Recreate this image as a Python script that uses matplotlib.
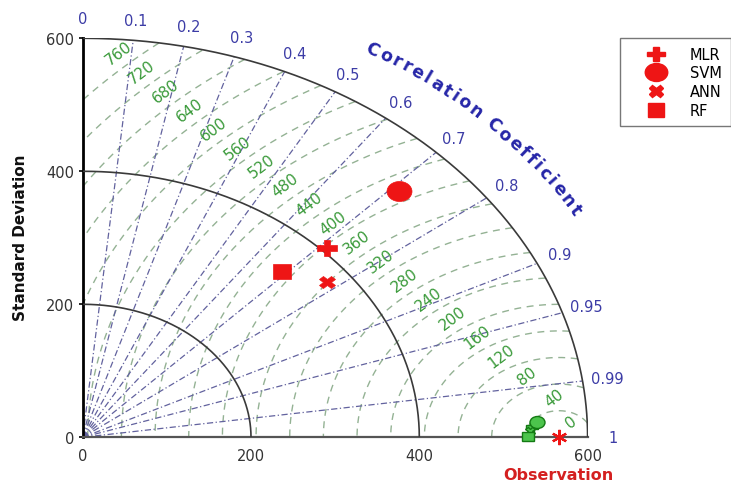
import numpy as np
import matplotlib
matplotlib.use('Agg')
import matplotlib.pyplot as plt
from matplotlib.markers import MarkerStyle
from matplotlib.transforms import Affine2D
from matplotlib.font_manager import FontProperties
from matplotlib.lines import Line2D

# ---------------- data ----------------
models = ['MLR', 'SVM', 'ANN', 'RF']
model_std = [406.0, 528.0, 372.5, 344.5]
model_corr = [0.714, 0.713, 0.780, 0.686]
train_std = [534.2, 540.5, 531.1, 529.6]
train_corr = [0.9996, 0.9991, 0.99986, 0.99999]
obs_std = 566.0
std_ticks = [0, 200, 400, 600]
std_arcs = [200, 400, 600]
corr_ticks = [0.0, 0.1, 0.2, 0.3, 0.4, 0.5, 0.6, 0.7, 0.8, 0.9, 0.95, 0.99, 1.0]
corr_labels = ['0', '0.1', '0.2', '0.3', '0.4', '0.5', '0.6', '0.7', '0.8', '0.9', '0.95', '0.99', '1']
rms_levels = [0, 40, 80, 120, 160, 200, 240, 280, 320, 360, 400, 440, 480,
              520, 560, 600, 640, 680, 720, 760]

# ---------------- styles ----------------
RMAX = 600
red = '#ee1515'
blue_lbl = '#3c3ca6'
green_lbl = '#3a9a3a'
rms_color = '#94b294'
corr_color = '#62629e'
stretch = Affine2D().scale(1.25, 1.0)
mk = {'MLR': 'P', 'SVM': 'o', 'ANN': 'X', 'RF': 's'}
msz = {'MLR': 11.5, 'SVM': 14.4, 'ANN': 9.2, 'RF': 10.8}

fig = plt.figure(figsize=(7.31, 4.85), dpi=100)
ax = fig.add_axes([82.7 / 731, (485 - 438.3) / 485, (587.6 - 82.7) / 731, (438.3 - 39.3) / 485])
ax.set_xlim(0, RMAX)
ax.set_ylim(0, RMAX)
for s in ['top', 'right']:
    ax.spines[s].set_visible(False)
ax.spines['left'].set_linewidth(2.0)
ax.spines['left'].set_color('black')
ax.spines['bottom'].set_linewidth(1.6)
ax.spines['bottom'].set_color('#555555')
ax.set_xticks(std_ticks)
ax.set_yticks(std_ticks)
ax.tick_params(axis='x', length=0, pad=8, labelsize=10.5, labelcolor='#333333')
ax.tick_params(axis='y', length=3, width=1.2, direction='out', pad=3, labelsize=10.5,
               labelcolor='#333333')

# RMS contours (centered on observation)
phi = np.linspace(0, np.pi, 1500)
for v in rms_levels[1:]:
    x = obs_std + v * np.cos(phi)
    y = v * np.sin(phi)
    m = (np.hypot(x, y) <= RMAX) & (x >= 0)
    x = np.where(m, x, np.nan)
    y = np.where(m, y, np.nan)
    ax.plot(x, y, color=rms_color, lw=1.0, dashes=(5, 4), zorder=2)

# correlation lines
for c in corr_ticks[1:-1]:
    ax.plot([0, RMAX * c], [0, RMAX * np.sqrt(1 - c * c)], color=corr_color, lw=0.9,
            dashes=(5, 2, 1, 2), zorder=2)

# std arcs
th = np.linspace(0, np.pi / 2, 400)
for r in std_arcs:
    ax.plot(r * np.cos(th), r * np.sin(th), color='#3a3a3a', lw=1.2, zorder=3)

# correlation tick labels
for c, lab in zip(corr_ticks, corr_labels):
    a = np.arccos(c)
    ax.text(630 * np.cos(a), 630 * np.sin(a), lab, color=blue_lbl, fontsize=10.5,
            ha='center', va='center', clip_on=False)

# RMS labels along a line from (620,0) going up-left
P0 = np.array([620.0, 0.0])
u = np.array([-1.0, 1.0]) / np.sqrt(2)
rel = np.array([obs_std, 0.0]) - P0
t_foot = rel @ u
d2 = rel @ rel - t_foot ** 2
for v in rms_levels:
    rr = v + 20
    t = t_foot + np.sqrt(max(0.0, rr * rr - d2))
    p = P0 + t * u
    if v == 0:
        p = p + np.array([-12.0, -3.0])
    ax.text(p[0], p[1], str(v), color=green_lbl, fontsize=11, rotation=37,
            ha='center', va='center', rotation_mode='anchor', zorder=4)

# title along arc
title = "Correlation Coefficient"
tfs = 12.5
fp = FontProperties(family='DejaVu Sans', weight='bold', size=tfs)
renderer = fig.canvas.get_renderer()
widths = []
for ch in title:
    if ch == ' ':
        widths.append(0.32 * tfs * fig.dpi / 72)
    else:
        w, h, d = renderer.get_text_width_height_descent(ch, fp, ismath=False)
        widths.append(w)
r_t = 678
thv = np.linspace(np.deg2rad(59.5), np.deg2rad(30.3), 3000)
trans = ax.transData
pts = trans.transform(np.c_[r_t * np.cos(thv), r_t * np.sin(thv)])
sarc = np.r_[0, np.cumsum(np.hypot(*np.diff(pts, axis=0).T))]
L = sarc[-1]
n = len(title)
base = sum((widths[i - 1] + widths[i]) / 2 for i in range(1, n))
gap = (L - base) / (n - 1)
cpos = [0.0]
for i in range(1, n):
    cpos.append(cpos[-1] + (widths[i - 1] + widths[i]) / 2 + gap)
for ch, cp in zip(title, cpos):
    tt = np.interp(cp, sarc, thv)
    p0 = trans.transform([r_t * np.cos(tt), r_t * np.sin(tt)])
    p1 = trans.transform([r_t * np.cos(tt - 0.001), r_t * np.sin(tt - 0.001)])
    rot = np.degrees(np.arctan2(p1[1] - p0[1], p1[0] - p0[0]))
    ax.text(r_t * np.cos(tt), r_t * np.sin(tt), ch, fontproperties=fp, color='#2626a8',
            rotation=rot, rotation_mode='anchor', ha='center', va='center', clip_on=False)

# training points (green) near observation
for name, s_, c_ in zip(models, train_std, train_corr):
    ax.plot(s_ * c_, s_ * np.sqrt(1 - c_ * c_), ls='none',
            marker=MarkerStyle(mk[name], transform=stretch), ms=msz[name] * 0.6,
            mfc='#4cc44c', mec='#137a13', mew=1.0, zorder=6, clip_on=False)

# observation
ax.plot(obs_std, 0, ls='none', marker=(6, 2, 0), ms=11, mec=red, mew=1.6, zorder=7,
        clip_on=False)

# model points
handles = []
for name, s_, c_ in zip(models, model_std, model_corr):
    ms_ = MarkerStyle(mk[name], transform=stretch)
    ax.plot(s_ * c_, s_ * np.sqrt(1 - c_ * c_), ls='none', marker=ms_, ms=msz[name],
            mfc=red, mec=red, mew=0.5, zorder=8)
    handles.append(Line2D([], [], ls='none', marker=MarkerStyle(mk[name], transform=stretch),
                          ms=msz[name] * 0.9, mfc=red, mec=red, label=name))

leg = fig.legend(handles=handles, loc='upper left', bbox_to_anchor=(620 / 731, 1 - 39 / 485),
                 fontsize=10.5, frameon=True, fancybox=False, borderpad=0.6,
                 handlelength=3.7, handletextpad=0.5, labelspacing=0.25, borderaxespad=0)
leg.get_frame().set_edgecolor('#555555')
leg.get_frame().set_linewidth(1.0)

fig.text(20.5 / 731, 1 - 238 / 485, 'Standard Deviation', rotation=90, ha='center',
         va='center', fontsize=11, fontweight='bold', color='#111111')
fig.text(558 / 731, 1 - 476 / 485, 'Observation', ha='center', va='center', fontsize=11.5,
         fontweight='bold', color='#d42020')

fig.savefig('out.png', dpi=100)
